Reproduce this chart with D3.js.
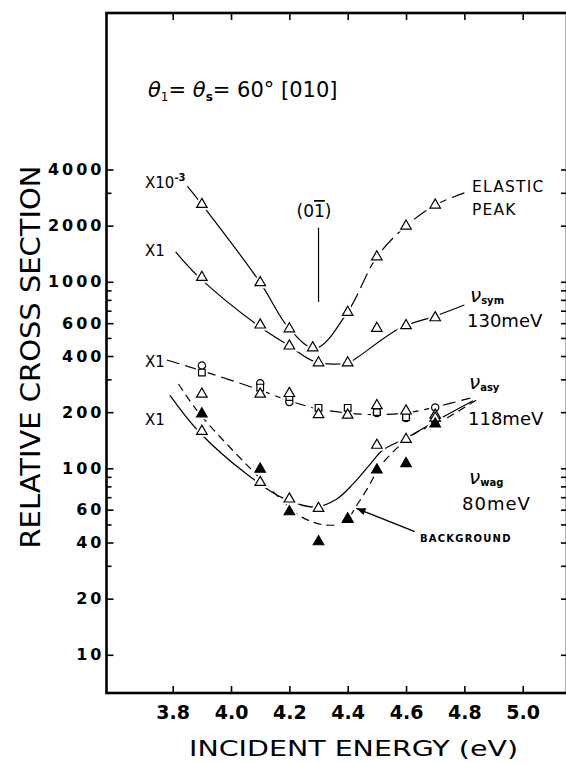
<!DOCTYPE html>
<html lang="en">
<head>
<meta charset="UTF-8">
<title>Relative cross section vs incident energy</title>
<script src="https://d3js.org/d3.v7.min.js"></script>
<style>
  body { margin: 0; background: #fff; }
  svg { display: block; font-family: "DejaVu Sans", sans-serif; }
</style>
</head>
<body>
<svg id="chart" width="566" height="763"></svg>
<script>
// incident energies (eV) of the measured points
const energies = [3.9, 4.1, 4.2, 4.3, 4.4, 4.5, 4.6, 4.7];
const elasticEnergies = [3.9, 4.1, 4.2, 4.28, 4.4, 4.5, 4.6, 4.7];

// plotted values (elastic is x10^-3, the others x1)
const elastic = [2600, 990, 560, 443, 686, 1360, 1990, 2580];
const sym = [1057, 587, 453, 368, 368, 563, 582, 642];
const asyCircle = [356, 286, 227, null, null, 198, 186, 212];
const asySquare = [326, 271, 241, 211, 211, 200, 188, 179];
const asyTriangle = [250, 250, 252, 194, 193, 217, 203, 193];
const wag = [158, 84, 68.5, 61, 53.5, 133, 143, 186];
const background = [196, 99, 58.5, 40.4, 53.2, 98, 106, 173];

// hand drawn guide curves [energy, value]
const elasticFit = [[3.85, 3260], [3.9, 2600], [4.1, 990], [4.2, 560], [4.29, 440], [4.4, 690],
  [4.5, 1360], [4.6, 1990], [4.7, 2580], [4.8, 3000]];
const symFit = [[3.81, 1445], [3.89, 1060], [4.09, 587], [4.2, 453], [4.29, 372], [4.4, 367],
  [4.43, 390], [4.58, 565], [4.7, 655], [4.8, 751]];
const asyFit = [[3.78, 381], [3.89, 337], [4.09, 266], [4.2, 230], [4.3, 208], [4.4, 198],
  [4.49, 194], [4.6, 198], [4.7, 213], [4.82, 238]];
const wagFit = [[3.79, 247], [3.89, 157], [4.05, 94], [4.18, 69], [4.29, 62], [4.36, 68],
  [4.42, 83], [4.47, 102], [4.52, 125], [4.6, 145], [4.71, 182], [4.83, 230]];
const bgFit = [[3.82, 283], [3.89, 198], [4.06, 102], [4.19, 64], [4.24, 55], [4.32, 49.7],
  [4.39, 51.5], [4.43, 63], [4.47, 79], [4.51, 102], [4.58, 133], [4.64, 157], [4.71, 175], [4.84, 232]];

// axis ticks
const xTicks = [3.8, 4.0, 4.2, 4.4, 4.6, 4.8, 5.0];
const yMajor = [10, 20, 40, 60, 100, 200, 400, 600, 1000, 2000, 4000];
const yMinor = [30, 50, 70, 80, 90, 300, 500, 700, 800, 900, 3000];

// (0 1-bar) marker line and background arrow
const millerLine = [[4.3, 1950], [4.3, 780]];
const bgArrow = [[4.63, 45.7], [4.43, 61]];

const svg = d3.select('#chart');
const frame = { left: 106.5, top: 13, right: 567, bottom: 693 };

const x = d3.scaleLinear().domain([3.8, 5.0]).range([172.7, 522.7]);
const y = d3.scaleLog().domain([10, 1000]).range([654.8, 281.8]);

// frame
svg.append('rect')
  .attr('x', frame.left).attr('y', frame.top)
  .attr('width', frame.right - frame.left).attr('height', frame.bottom - frame.top)
  .attr('fill', 'none').attr('stroke', '#000').attr('stroke-width', 2.6);

// axes
const bottomAxis = svg.append('g').attr('transform', `translate(0,${frame.bottom})`)
  .call(d3.axisBottom(x).tickValues(xTicks).tickSizeInner(-7).tickSizeOuter(0)
    .tickPadding(13).tickFormat(d3.format('.1f')));
svg.append('g').attr('transform', `translate(0,${frame.top})`)
  .call(d3.axisTop(x).tickValues(xTicks).tickSizeInner(-7).tickSizeOuter(0).tickFormat(''));

const leftAxis = svg.append('g').attr('transform', `translate(${frame.left},0)`)
  .call(d3.axisLeft(y).tickValues(yMajor).tickSizeInner(-7).tickSizeOuter(0)
    .tickPadding(2).tickFormat(d3.format('d')));
svg.append('g').attr('transform', `translate(${frame.left},0)`)
  .call(d3.axisLeft(y).tickValues(yMinor).tickSizeInner(-5).tickSizeOuter(0).tickFormat(''));
svg.append('g').attr('transform', `translate(${frame.right},0)`)
  .call(d3.axisRight(y).tickValues(yMajor.concat(yMinor)).tickSizeInner(-6).tickSizeOuter(0).tickFormat(''));

svg.selectAll('.domain').remove();
svg.selectAll('.tick line').attr('stroke', '#000').attr('stroke-width', 1.6);
bottomAxis.selectAll('text')
  .attr('font-family', '"DejaVu Sans", sans-serif').attr('font-size', 19)
  .attr('font-weight', 'bold').attr('fill', '#000');
leftAxis.selectAll('text')
  .attr('font-family', '"DejaVu Sans", sans-serif').attr('font-size', 16)
  .attr('font-weight', 'bold').attr('letter-spacing', 3).attr('fill', '#000');

// axis titles
svg.append('text')
  .attr('transform', 'translate(31,357) rotate(-90)')
  .attr('text-anchor', 'middle').attr('dy', '0.36em')
  .attr('font-size', 26).attr('textLength', 383).attr('lengthAdjust', 'spacingAndGlyphs')
  .text('RELATIVE CROSS SECTION');
svg.append('text')
  .attr('x', 353.5).attr('y', 756).attr('text-anchor', 'middle')
  .attr('font-size', 22).attr('textLength', 329).attr('lengthAdjust', 'spacingAndGlyphs')
  .text('INCIDENT ENERGY (eV)');

// title
const title = svg.append('text').attr('x', 148).attr('y', 97).attr('font-size', 21);
title.append('tspan').attr('font-style', 'italic').text('θ');
title.append('tspan').attr('font-size', 12).attr('dy', 4).text('1');
title.append('tspan').attr('dy', -4).text('= ');
title.append('tspan').attr('font-style', 'italic').text('θ');
title.append('tspan').attr('font-size', 12).attr('font-weight', 'bold').attr('dy', 4).text('s');
title.append('tspan').attr('dy', -4).text('= 60°  [010]');

// curves
const line = d3.line()
  .x(d => x(d[0]))
  .y(d => y(d[1]))
  .curve(d3.curveCatmullRom.alpha(0.5));
const curves = svg.append('g').attr('fill', 'none').attr('stroke', '#000').attr('stroke-width', 1.2);

const defs = svg.append('defs');
defs.append('clipPath').attr('id', 'leftPart').append('rect')
  .attr('x', 0).attr('y', 0).attr('width', x(4.4)).attr('height', 763);
defs.append('clipPath').attr('id', 'rightPart').append('rect')
  .attr('x', x(4.4)).attr('y', 0).attr('width', 566).attr('height', 763);

curves.append('path').attr('d', line(elasticFit)).attr('clip-path', 'url(#leftPart)');
curves.append('path').attr('d', line(elasticFit)).attr('clip-path', 'url(#rightPart)')
  .attr('stroke-dasharray', '16,6');
curves.append('path').attr('d', line(symFit));
curves.append('path').attr('d', line(asyFit)).attr('stroke-dasharray', '13,6');
curves.append('path').attr('d', line(wagFit));
curves.append('path').attr('d', line(bgFit)).attr('stroke-dasharray', '8,5');

// markers
const markerSets = [
  { E: elasticEnergies, v: elastic, type: d3.symbolTriangle, size: 48, filled: false },
  { E: energies, v: sym, type: d3.symbolTriangle, size: 48, filled: false },
  { E: energies, v: asyCircle, type: d3.symbolCircle, size: 42, filled: false },
  { E: energies, v: asySquare, type: d3.symbolSquare, size: 44, filled: false },
  { E: energies, v: asyTriangle, type: d3.symbolTriangle, size: 48, filled: false },
  { E: energies, v: wag, type: d3.symbolTriangle, size: 48, filled: false },
  { E: energies, v: background, type: d3.symbolTriangle, size: 48, filled: true }
];
const pointsOf = s => s.E.map((e, i) => [e, s.v[i]]).filter(d => d[1] != null);

const halo = svg.append('g');
const marks = svg.append('g');
markerSets.forEach(s => {
  const shape = d3.symbol().type(s.type).size(s.size);
  halo.selectAll(null).data(pointsOf(s)).join('path')
    .attr('transform', d => `translate(${x(d[0])},${y(d[1])})`)
    .attr('d', shape).attr('fill', '#fff').attr('stroke', '#fff').attr('stroke-width', 5);
});
markerSets.forEach(s => {
  const shape = d3.symbol().type(s.type).size(s.size);
  marks.selectAll(null).data(pointsOf(s)).join('path')
    .attr('transform', d => `translate(${x(d[0])},${y(d[1])})`)
    .attr('d', shape)
    .attr('fill', s.filled ? '#000' : '#fff')
    .attr('stroke', '#000').attr('stroke-width', 1.2);
});

// (0 1) annotation
svg.append('path').attr('d', d3.line().x(d => x(d[0])).y(d => y(d[1]))(millerLine))
  .attr('stroke', '#000').attr('stroke-width', 1.2);
const miller = svg.append('text').attr('x', 314).attr('y', 217).attr('text-anchor', 'middle')
  .attr('font-size', 17);
miller.append('tspan').text('(0');
miller.append('tspan').style('text-decoration', 'overline').text('1');
miller.append('tspan').text(')');

// background arrow
defs.append('marker').attr('id', 'arrow')
  .attr('viewBox', '0 0 10 10').attr('refX', 10).attr('refY', 5)
  .attr('markerWidth', 9).attr('markerHeight', 7).attr('orient', 'auto')
  .append('path').attr('d', 'M0,1 L10,5 L0,9 Z').attr('fill', '#000');
svg.append('path').attr('d', d3.line().x(d => x(d[0])).y(d => y(d[1]))(bgArrow))
  .attr('stroke', '#000').attr('stroke-width', 1.3).attr('marker-end', 'url(#arrow)');
svg.append('text').attr('x', 420).attr('y', 542)
  .attr('font-size', 10).attr('font-weight', 'bold').attr('letter-spacing', 1.2)
  .text('BACKGROUND');

// curve labels
const label = (tx, ty, txt, size) => svg.append('text').attr('x', tx).attr('y', ty)
  .attr('font-size', size).text(txt);
const scaleLabel = svg.append('text').attr('x', 145).attr('y', 188).attr('font-size', 15);
scaleLabel.append('tspan').text('X10');
scaleLabel.append('tspan').attr('dy', -7).attr('font-size', 10).attr('font-weight', 'bold').text('-3');
label(145, 256, 'X1', 15);
label(145, 367, 'X1', 15);
label(145, 425, 'X1', 15);

label(472, 192, 'ELASTIC', 15.5).attr('letter-spacing', 1.2);
label(472, 215, 'PEAK', 15.5).attr('letter-spacing', 1.2);

const nu = (tx, ty, sub) => {
  const t = svg.append('text').attr('x', tx).attr('y', ty).attr('font-size', 20);
  t.append('tspan').attr('font-style', 'italic').text('ν');
  t.append('tspan').attr('font-size', 10).attr('font-weight', 'bold').attr('dy', 2).text(sub);
};
nu(470, 302, 'sym');
label(467, 327, '130meV', 18);
nu(469, 389, 'asy');
label(468, 425, '118meV', 18);
nu(469, 484, 'wag');
label(462, 510, '80meV', 18).attr('letter-spacing', 1);
</script>
</body>
</html>
